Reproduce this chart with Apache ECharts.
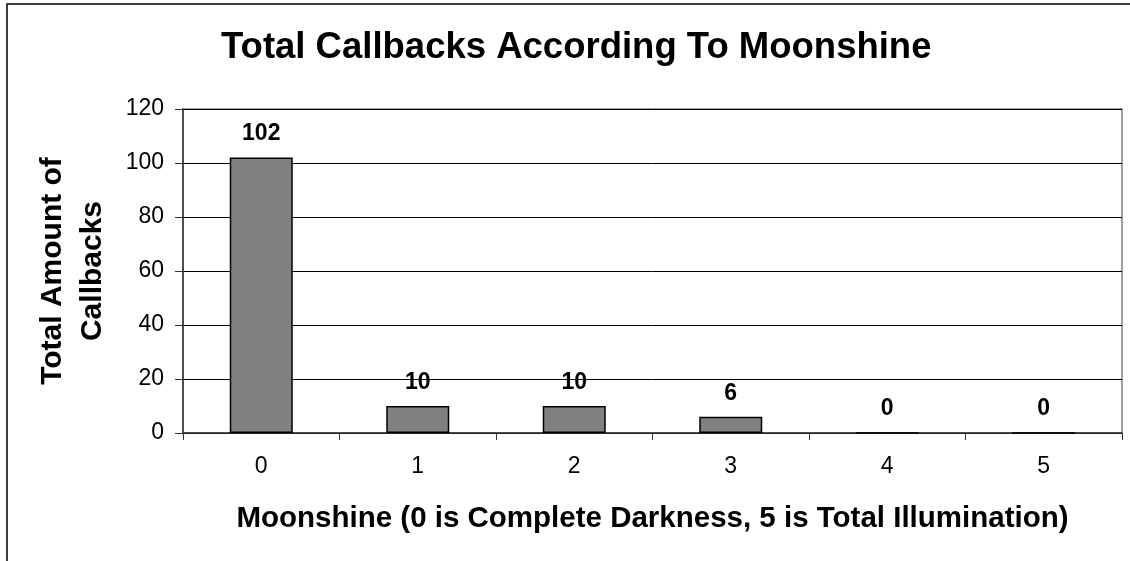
<!DOCTYPE html>
<html>
<head>
<meta charset="utf-8">
<script src="https://cdn.jsdelivr.net/npm/echarts@6/dist/echarts.min.js"></script>
<style>
html,body{margin:0;padding:0;background:#fff;}
#chart{width:1130px;height:561px;}
</style>
</head>
<body>
<div id="chart"></div>
<script>
const categories = ['0', '1', '2', '3', '4', '5'];
const callbacks = [102, 10, 10, 6, 0, 0];
const yTicks = [0, 20, 40, 60, 80, 100, 120];

const FONT = '"Liberation Sans", Arial, sans-serif';
const chart = echarts.init(document.getElementById('chart'));
chart.setOption({
  backgroundColor: '#fff',
  animation: false,
  graphic: [{
    type: 'rect',
    shape: { x: 7, y: 4, width: 1300, height: 700 },
    style: { fill: 'none', stroke: '#000', lineWidth: 1.5 },
    silent: true
  }],
  title: {
    text: 'Total Callbacks According To Moonshine',
    left: 216,
    top: 24,
    textStyle: { fontFamily: FONT, fontSize: 36.5, fontWeight: 'bold', color: '#000' }
  },
  grid: {
    left: 183, right: 8, top: 109, bottom: 128,
    show: true, borderColor: '#808080', borderWidth: 1.5, backgroundColor: 'transparent'
  },
  xAxis: {
    type: 'category',
    data: categories,
    name: 'Moonshine (0 is Complete Darkness, 5 is Total Illumination)',
    nameLocation: 'middle',
    nameGap: 71,
    nameTextStyle: { fontFamily: FONT, fontSize: 29.5, fontWeight: 'bold', color: '#000' },
    axisLine: { lineStyle: { color: '#333', width: 1.5 } },
    axisTick: { show: true, length: 7, lineStyle: { color: '#333' } },
    axisLabel: { fontFamily: FONT, fontSize: 23, color: '#000', margin: 22 }
  },
  yAxis: {
    type: 'value',
    min: yTicks[0],
    max: yTicks[yTicks.length - 1],
    interval: yTicks[1] - yTicks[0],
    name: 'Total Amount of\nCallbacks',
    nameLocation: 'middle',
    nameRotate: 90,
    nameGap: 70,
    nameTextStyle: { fontFamily: FONT, fontSize: 30, fontWeight: 'bold', color: '#000', lineHeight: 40, align: 'center' },
    axisLine: { show: true, lineStyle: { color: '#333', width: 1.5 } },
    axisTick: { show: true, length: 8, lineStyle: { color: '#333' } },
    axisLabel: { fontFamily: FONT, fontSize: 23, color: '#000', margin: 19 },
    splitLine: { show: true, lineStyle: { color: '#000', width: 1 } }
  },
  series: [{
    type: 'bar',
    data: callbacks,
    barWidth: 63,
    itemStyle: { color: '#808080', borderColor: '#000', borderWidth: 1.5 },
    label: {
      show: true, position: 'top', distance: 12,
      fontFamily: FONT, fontSize: 23, fontWeight: 'bold', color: '#000'
    }
  }]
});
</script>
</body>
</html>
